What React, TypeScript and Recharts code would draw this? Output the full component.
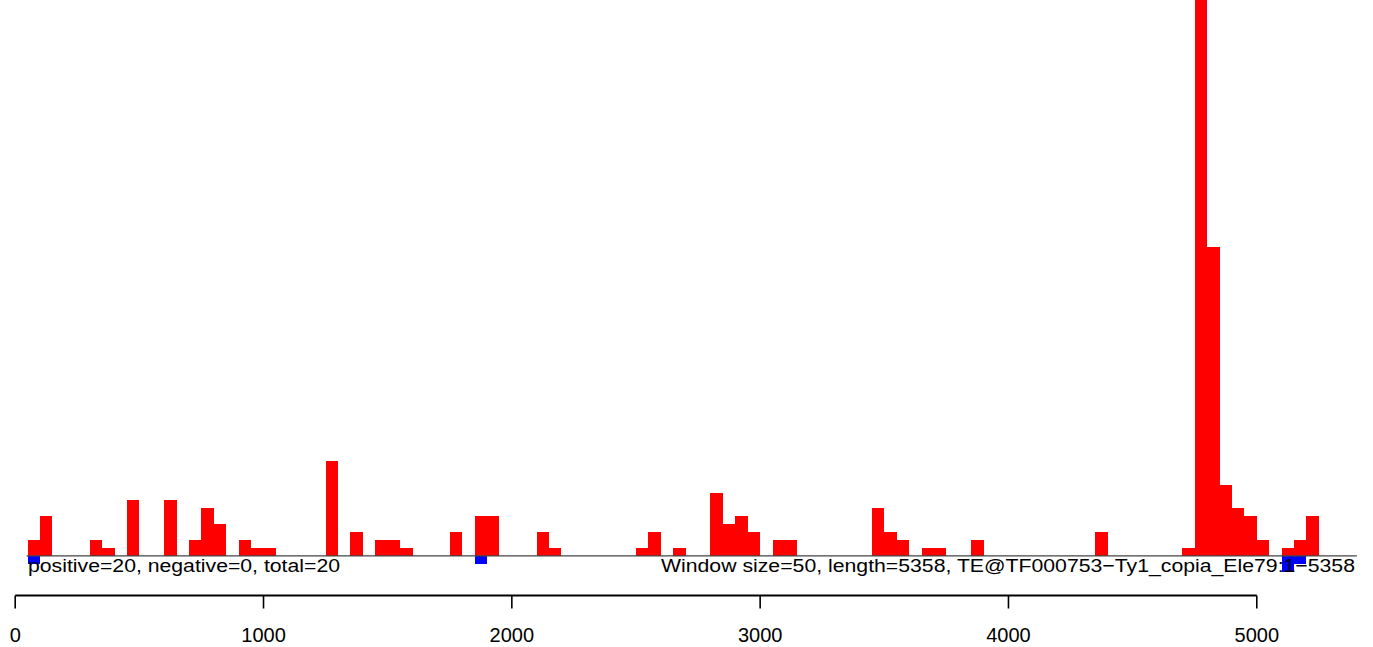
import { ComposedChart, Bar, XAxis, YAxis, ReferenceLine } from "recharts"

// 50 bp windows over a 5358 bp element
const WINDOW = 50
const LENGTH = 5358

// windows (by index) with positive-strand hits and their counts
const posWindows = [1, 2, 6, 7, 9, 12, 14, 15, 16, 18, 19, 20, 25, 27, 29, 30, 31, 35, 37, 38, 42, 43, 50, 51, 53, 56, 57, 58, 59, 61, 62, 69, 70, 71, 73, 74, 77, 87, 94, 95, 96, 97, 98, 99, 100, 102, 103, 104]
const posCounts = [2, 5, 2, 1, 7, 7, 2, 6, 4, 2, 1, 1, 12, 3, 2, 2, 1, 3, 5, 5, 3, 1, 1, 3, 1, 8, 4, 5, 3, 2, 2, 6, 3, 2, 1, 1, 2, 3, 1, 75, 39, 9, 6, 5, 2, 1, 2, 5]

// windows with negative-strand hits
const negWindows = [1, 37, 102, 103]
const negCounts = [-1, -1, -2, -1]

const xTicks = [0, 1000, 2000, 3000, 4000, 5000]

const leftNote = "positive=20, negative=0, total=20"
const rightNote = "Window size=50, length=5358, TE@TF000753\u2212Ty1_copia_Ele79:1\u22125358"

const nWindows = Math.ceil(LENGTH / WINDOW)
const data = Array.from({ length: nWindows }, (_, i) => {
  const p = posWindows.indexOf(i)
  const n = negWindows.indexOf(i)
  return {
    x: i * WINDOW + WINDOW / 2,
    pos: p >= 0 ? posCounts[p] : 0,
    neg: n >= 0 ? negCounts[n] : 0,
  }
})

const W = 1373
const H = 647
const FONT = "'Liberation Sans', Arial, Helvetica, sans-serif"

export default function App() {
  return (
    <div style={{ position: "absolute", left: 0, top: 0, width: W, height: H, background: "#fff" }}>
      <ComposedChart
        width={W}
        height={H}
        data={data}
        stackOffset="sign"
        barCategoryGap={0}
        barGap={0}
        margin={{ top: 0, right: 0, left: 15.2, bottom: 0 }}
      >
        <XAxis
          type="number"
          dataKey="x"
          domain={[0, 5468]}
          ticks={xTicks}
          interval={0}
          allowDataOverflow
          axisLine={false}
          tickLine={{ stroke: "#000", strokeWidth: 1.6 }}
          tickSize={13}
          tickMargin={19}
          height={51.5}
          tick={{ fontSize: 20, fill: "#000", fontFamily: FONT }}
        />
        <YAxis hide domain={[-5, 70.2]} allowDataOverflow />
        <Bar dataKey="pos" stackId="s" fill="#ff0000" barSize={12.415} isAnimationActive={false} shapeRendering="crispEdges" />
        <Bar dataKey="neg" stackId="s" fill="#0000ff" barSize={12.415} isAnimationActive={false} shapeRendering="crispEdges" />
        <ReferenceLine
          segment={[{ x: 46, y: 0 }, { x: 5403, y: 0 }]}
          stroke="#444"
          strokeWidth={1.3}
          ifOverflow="visible"
        />
        <ReferenceLine
          segment={[{ x: 0, y: -5 }, { x: 5000, y: -5 }]}
          stroke="#000"
          strokeWidth={2}
          ifOverflow="visible"
        />
      </ComposedChart>
      <svg width={W} height={H} style={{ position: "absolute", left: 0, top: 0, pointerEvents: "none" }}>
        <text x={28} y={571.7} fontSize={18.7} fontFamily={FONT} fill="#000" textLength={312} lengthAdjust="spacingAndGlyphs">
          {leftNote}
        </text>
        <text x={661} y={571.7} fontSize={18.7} fontFamily={FONT} fill="#000" textLength={694} lengthAdjust="spacingAndGlyphs">
          {rightNote}
        </text>
      </svg>
    </div>
  )
}
